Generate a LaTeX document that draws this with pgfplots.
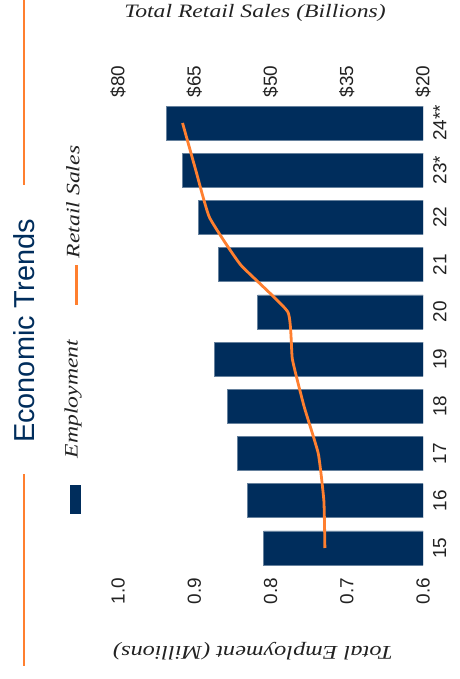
\documentclass[border=0pt]{standalone}
\usepackage{pgfplots}
\usepackage{pgfplotstable}
\pgfplotsset{compat=1.18}
\usepackage{fontspec}
\setmainfont{Liberation Serif}
\setsansfont{Liberation Sans}
\newfontfamily\serifit{Liberation Serif}[FakeStretch=1.25]
\definecolor{navy}{HTML}{002D5C}
\definecolor{orng}{HTML}{FF7F2F}
\definecolor{txt}{HTML}{222222}
\pgfplotstableread{
idx emp ret
0 0.809 39.3
1 0.830 39.5
2 0.843 40.6
3 0.857 43.4
4 0.874 45.7
5 0.817 46.6
6 0.868 55.9
7 0.895 62.0
8 0.916 64.7
9 0.937 67.3
}\data
\begin{document}
\begin{tikzpicture}[x=1bp,y=-1bp]
\useasboundingbox (0,0) rectangle (460,679);
\coordinate (A) at (118,571.6);
\begin{axis}[
  at={(A)}, anchor=south west,
  scale only axis, width=305bp, height=472.2bp,
  xmin=0.6, xmax=1.0, x dir=reverse,
  ymin=-0.5, ymax=9.5,
  axis line style={draw=none}, major tick length=0pt,
  xtick={0.6,0.7,0.8,0.9,1.0}, xticklabels={0.6,0.7,0.8,0.9,1.0},
  xticklabel style={yshift=-6bp, rotate=90, anchor=east, inner sep=0pt, text=txt, font=\sffamily\fontsize{19}{19}\selectfont},
  ytick={0,...,9}, yticklabels={15,16,17,18,19,20,21,22,23*,24**},
  yticklabel pos=right,
  yticklabel style={xshift=10bp, rotate=90, anchor=north, inner sep=0pt, text=txt, font=\sffamily\fontsize{19}{19}\selectfont},
  xbar, bar width=34bp,
]
\addplot[fill=navy, draw=navy!60!white, line width=0.6pt] table[x=emp,y=idx] {\data};
\end{axis}
\begin{axis}[
  at={(A)}, anchor=south west,
  scale only axis, width=305bp, height=472.2bp,
  xmin=20, xmax=80, x dir=reverse,
  ymin=-0.5, ymax=9.5,
  axis x line*=top, hide y axis,
  axis line style={draw=none}, major tick length=0pt,
  xtick={20,35,50,65,80}, xticklabels={\$20,\$35,\$50,\$65,\$80},
  xticklabel style={yshift=2bp, rotate=90, anchor=west, inner sep=0pt, text=txt, font=\sffamily\fontsize{19}{19}\selectfont},
]
\addplot[orng, line width=2.8bp, smooth, tension=0.25] table[x=ret,y=idx] {\data};
\end{axis}
\node[rotate=90, text=navy, font=\sffamily\fontsize{29}{29}\selectfont] at (24,331) {Economic Trends};
\draw[orng, line width=1.5bp] (24,0) -- (24,185);
\draw[orng, line width=1.5bp] (24,474) -- (24,666);
\fill[navy] (70,485) rectangle (81,514);
\draw[orng, line width=3bp] (76,265) -- (76,305);
\node[rotate=90, text=txt, font=\serifit\itshape\fontsize{19}{19}\selectfont] at (73,399) {Employment};
\node[rotate=90, text=txt, font=\serifit\itshape\fontsize{19}{19}\selectfont] at (73,202) {Retail Sales};
\node[text=txt, font=\serifit\itshape\fontsize{19}{19}\selectfont] at (255,13) {Total Retail Sales (Billions)};
\node[rotate=180, text=txt, font=\serifit\itshape\fontsize{19.5}{19.5}\selectfont] at (253,651) {Total Employment (Millions)};
\end{tikzpicture}
\end{document}
